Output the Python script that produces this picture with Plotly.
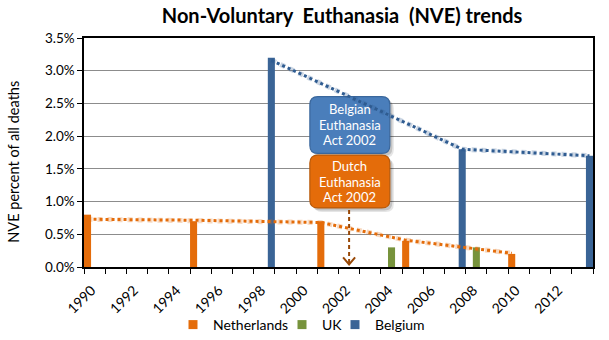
import plotly.graph_objects as go

# Survey years and non-voluntary euthanasia rates (% of all deaths)
years_nl = [1990, 1995, 2001, 2005, 2010]
nve_nl = [0.8, 0.7, 0.7, 0.4, 0.2]
years_uk = [2004, 2008]
nve_uk = [0.3, 0.3]
years_be = [1998, 2007, 2013]
nve_be = [3.2, 1.8, 1.7]

# Dotted trend lines drawn through each series
trend_nl = [0.73, 0.715, 0.68, 0.41, 0.21]
trend_be = [3.16, 1.8, 1.7]

tick_years = list(range(1990, 2013, 2))
x_start, x_end = 1990, 2014

C_NL = "#E46C0A"
C_UK = "#77933C"
C_BE = "#3A6496"
C_BE_LINE = "#2F5C91"
FONT = "Lato"

SLOT = 1 / 3  # each year is split into three slots: NL, UK, BE

fig = go.Figure()


def add_bars(xs, ys, color, k):
    fig.add_trace(go.Bar(
        x=xs, y=ys, width=SLOT, offset=k * SLOT,
        marker=dict(color=color, line=dict(width=0)),
        showlegend=False, hoverinfo="skip"))


add_bars(years_nl, nve_nl, C_NL, 0)
add_bars(years_uk, nve_uk, C_UK, 1)
add_bars(years_be, nve_be, C_BE, 2)


def add_trend(xs, ys, color, k):
    xc = [x + (k + 0.5) * SLOT for x in xs]
    # soft glow under the dots
    fig.add_trace(go.Scatter(
        x=xc, y=ys, mode="lines",
        line=dict(color=color, width=5, dash="dot"), opacity=0.25,
        showlegend=False, hoverinfo="skip"))
    fig.add_trace(go.Scatter(
        x=xc, y=ys, mode="lines",
        line=dict(color=color, width=3, dash="dot"),
        showlegend=False, hoverinfo="skip"))


add_trend(years_nl, trend_nl, C_NL, 0)
add_trend(years_be, trend_be, C_BE_LINE, 2)

# legend entries (entry widths keep the items compact)
for name, color, lw in [("Netherlands", C_NL, 64), ("UK", C_UK, 8), ("Belgium", C_BE, 50)]:
    fig.add_trace(go.Scatter(
        x=[None], y=[None], mode="markers", name=name, legendwidth=lw,
        marker=dict(symbol="square", size=9, color=color)))

# --- callout boxes ------------------------------------------------------
PX_X = 509 / (x_end - x_start)   # pixels per year
PX_Y = 229 / 3.5                 # pixels per percentage point


def rounded_box(x0, x1, y0, y1, r=8):
    rx, ry = r / PX_X, r / PX_Y
    return (f"M{x0 + rx},{y1} L{x1 - rx},{y1} Q{x1},{y1} {x1},{y1 - ry} "
            f"L{x1},{y0 + ry} Q{x1},{y0} {x1 - rx},{y0} "
            f"L{x0 + rx},{y0} Q{x0},{y0} {x0},{y0 + ry} "
            f"L{x0},{y1 - ry} Q{x0},{y1} {x0 + rx},{y1} Z")


act_x = 2002.5
bx0, bx1 = 2000.65, 2004.42
boxes = [
    (2.605, 1.736, "#4A7EBB", "#3A679C", ["Belgian", "Euthanasia", "Act 2002"]),
    (1.710, 0.903, "#E46C0A", "#B85A0B", ["Dutch", "Euthanasia", "Act 2002"]),
]
for top, bot, fill, edge, lines in boxes:
    for off, alpha in [(4, 0.10), (2.5, 0.15)]:
        dx, dy = off / PX_X, off / PX_Y
        fig.add_shape(type="path", xref="x", yref="y", layer="between",
                      path=rounded_box(bx0 + dx, bx1 + dx, bot - dy, top - dy),
                      fillcolor=f"rgba(0,0,0,{alpha})", line=dict(width=0))
    fig.add_shape(type="path", xref="x", yref="y", layer="between",
                  path=rounded_box(bx0, bx1, bot, top),
                  fillcolor=fill, line=dict(color=edge, width=1.2))
    yc = (top + bot) / 2
    for i, txt in enumerate(lines):
        fig.add_annotation(x=(bx0 + bx1) / 2, y=yc, xref="x", yref="y",
                           text=txt, showarrow=False, yshift=(1 - i) * 15.5,
                           font=dict(family=FONT, size=13, color="white"))

# dashed arrow from the Dutch box down to 2002
ARROW = "#984807"
tip = 0.04
fig.add_shape(type="line", xref="x", yref="y", x0=act_x, x1=act_x,
              y0=0.87, y1=tip + 0.01, line=dict(color=ARROW, width=2, dash="4px,3px"))
ax, ay = 6 / PX_X, 7 / PX_Y
fig.add_shape(type="path", xref="x", yref="y",
              path=f"M{act_x - ax},{tip + ay} L{act_x},{tip} L{act_x + ax},{tip + ay}",
              line=dict(color=ARROW, width=2))

# y-axis title
fig.add_annotation(text="NVE percent of all deaths", textangle=-90, showarrow=False,
                   xref="paper", yref="paper", x=(14 - 84) / 509, y=(267 - 161.7) / 229,
                   xanchor="center", yanchor="middle",
                   font=dict(family=FONT, size=14.5, color="black"))

fig.update_layout(
    width=609, height=340,
    margin=dict(l=84, r=16, t=38, b=73, autoexpand=False),
    paper_bgcolor="white", plot_bgcolor="white",
    barmode="overlay",
    font=dict(family=FONT, size=13, color="black"),
    title=dict(text="<b>Non-Voluntary  Euthanasia  (NVE) trends</b>",
               x=0.507, xref="paper", xanchor="center",
               y=1 - 16 / 340, yanchor="middle",
               font=dict(family=FONT, size=20, color="black")),
    legend=dict(orientation="h", x=173 / 609, xref="container", xanchor="left",
                y=1 - 325 / 340, yref="container", yanchor="middle",
                font=dict(family=FONT, size=14), itemwidth=30, bgcolor="rgba(0,0,0,0)"),
    xaxis=dict(range=[x_start, x_end], showgrid=False, zeroline=False,
               tickvals=[y + 0.5 for y in tick_years], ticktext=[str(y) for y in tick_years],
               tickangle=-45, ticks="", tickfont=dict(size=14), ticklabelstandoff=8,
               ticklabelshift=-3,
               minor=dict(tick0=x_start, dtick=1, ticks="outside", ticklen=5,
                          tickcolor="black", showgrid=False),
               showline=True, linecolor="black", linewidth=1.5, mirror=True),
    yaxis=dict(range=[0, 3.5], dtick=0.5, tickformat=".1f", ticksuffix="%",
               showgrid=True, gridcolor="#8C8C8C", gridwidth=1, zeroline=False,
               ticks="outside", ticklen=5, tickcolor="black", tickfont=dict(size=13.5),
               showline=True, linecolor="black", linewidth=1.5, mirror=True),
)

fig.write_html("out.html")
